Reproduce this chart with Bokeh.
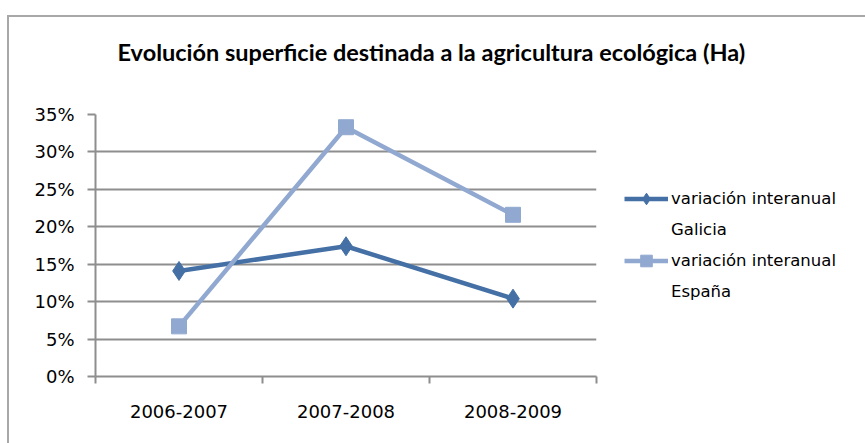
from bokeh.plotting import figure
from bokeh.models import (FixedTicker, NumeralTickFormatter, Legend, LegendItem, Title,
                          ColumnDataSource)
from bokeh.embed import file_html
from bokeh.resources import INLINE

categories = ["2006-2007", "2007-2008", "2008-2009"]
galicia = [0.141, 0.174, 0.104]
espana = [0.067, 0.333, 0.216]
y_ticks = [0.0, 0.05, 0.10, 0.15, 0.20, 0.25, 0.30, 0.35]
title_text = "Evolución superficie destinada a la agricultura ecológica (Ha)"
label_line1 = "variación interanual"
label_galicia = "Galicia"
label_espana = "España"

C_GAL = "#4470A6"
C_ESP = "#91A9D0"
GRID = "#8E8E8E"
FONT = "DejaVu Sans"

x = [i + 0.5 for i in range(len(categories))]
bounds = [float(i) for i in range(len(categories) + 1)]

src = ColumnDataSource(dict(x=x, gal=galicia, esp=espana))

p = figure(frame_width=501, frame_height=262, x_range=(0, len(categories)), y_range=(0, 0.35),
           output_backend="svg", toolbar_location=None,
           min_border_left=86, min_border_right=0, min_border_top=97, min_border_bottom=67)
p.outline_line_color = None
p.background_fill_color = "white"
p.border_fill_color = "white"
p.styles = {"border-top": "2px solid #A8A8A8", "border-left": "2px solid #A8A8A8",
            "margin-left": "7px", "margin-top": "15px"}

# main title (outermost panel)
p.title.text = title_text
p.title.align = "left"
p.title.offset = 22
p.title.standoff = 0
p.title.text_font = "Lato"
p.title.text_font_style = "bold"
p.title.text_font_size = "23.5px"
p.title.text_color = "black"

# spacer between the title and the plot area
spacer = Title(text=" ", text_font_size="10px", standoff=36)
p.add_layout(spacer, "above")

p.xgrid.visible = False
p.ygrid.ticker = FixedTicker(ticks=y_ticks)
p.ygrid.grid_line_color = GRID
p.ygrid.grid_line_width = 2

ya = p.yaxis[0]
ya.ticker = FixedTicker(ticks=y_ticks)
ya.formatter = NumeralTickFormatter(format="0%")
ya.axis_line_color = GRID
ya.axis_line_width = 2
ya.major_tick_line_color = GRID
ya.major_tick_line_width = 2
ya.major_tick_out = 8
ya.major_tick_in = 0
ya.minor_tick_line_color = None
ya.major_label_standoff = 13
ya.major_label_text_font = FONT
ya.major_label_text_font_size = "18px"
ya.major_label_text_color = "black"

xa = p.xaxis[0]
xa.ticker = FixedTicker(ticks=x, minor_ticks=bounds)
xa.major_label_overrides = {xi: c for xi, c in zip(x, categories)}
xa.axis_line_color = GRID
xa.axis_line_width = 2
xa.major_tick_line_color = None
xa.major_tick_out = 0
xa.major_tick_in = 0
xa.minor_tick_line_color = GRID
xa.minor_tick_line_width = 2
xa.minor_tick_out = 7
xa.minor_tick_in = 0
xa.major_label_standoff = 21
xa.major_label_text_font = FONT
xa.major_label_text_font_size = "18px"
xa.major_label_text_color = "black"

l1 = p.line("x", "gal", source=src, line_width=4.5, color=C_GAL)
m1 = p.scatter("x", "gal", source=src, marker="diamond", size=19, color=C_GAL)
l2 = p.line("x", "esp", source=src, line_width=4.5, color=C_ESP)
m2 = p.scatter("x", "esp", source=src, marker="square", size=15, color=C_ESP)

legend = Legend(items=[LegendItem(label=label_line1, renderers=[l1, m1]),
                       LegendItem(label=label_galicia, renderers=[]),
                       LegendItem(label=label_line1, renderers=[l2, m2]),
                       LegendItem(label=label_espana, renderers=[])],
                location="center_left", padding=0, margin=28, spacing=2,
                glyph_width=44, glyph_height=29, label_height=29, label_standoff=3,
                label_text_font=FONT, label_text_font_size="16.5px",
                label_text_color="black",
                border_line_color=None, background_fill_alpha=0)
p.add_layout(legend, "right")

open("out.html", "w").write(file_html(p, INLINE))
